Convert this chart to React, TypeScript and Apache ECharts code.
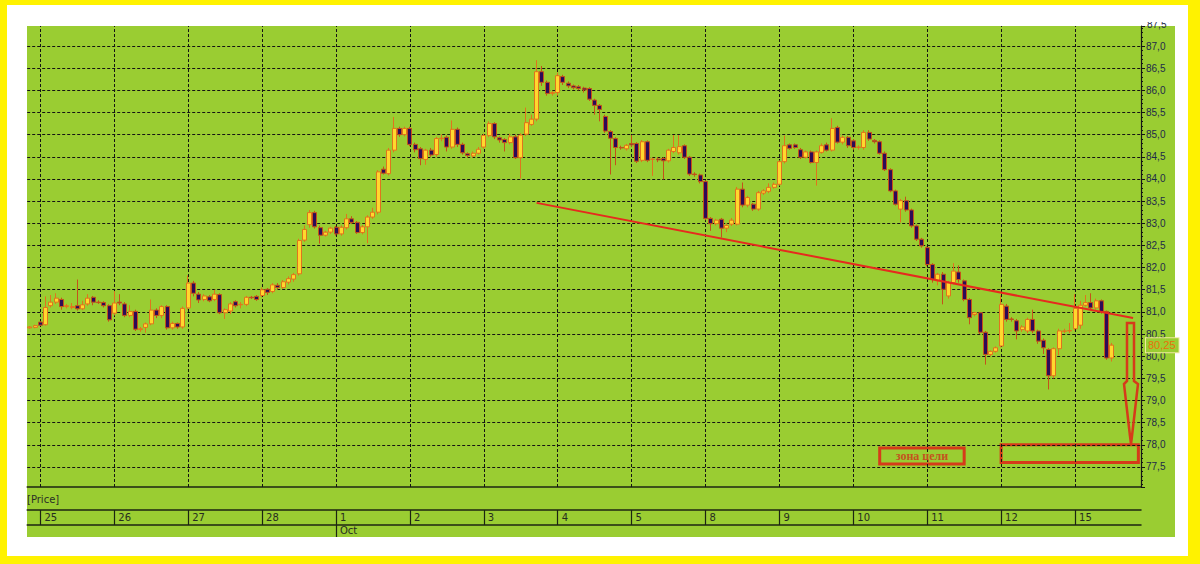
import React, { useEffect, useRef } from 'react';
import * as echarts from 'echarts';

// ---- DATA: hourly candles [open, close, low, high] ----
const sep24 = [
  [80.64, 80.66, 80.62, 80.68], [80.65, 80.69, 80.63, 80.71],
];
const sep25 = [
  [80.77, 80.70, 80.68, 80.79], [80.71, 81.10, 80.69, 81.35], [81.14, 81.22, 81.10, 81.38],
  [81.22, 81.31, 81.18, 81.42], [81.28, 81.12, 81.05, 81.32], [81.12, 81.14, 81.08, 81.18],
  [81.10, 81.12, 81.06, 81.20], [81.14, 81.07, 81.03, 81.73], [81.07, 81.16, 81.04, 81.25],
  [81.18, 81.31, 81.14, 81.40], [81.33, 81.22, 81.15, 81.36], [81.22, 81.21, 81.18, 81.26],
  [81.21, 81.14, 81.10, 81.24], [81.14, 80.82, 80.78, 81.17],
];
const sep26 = [
  [80.97, 81.20, 80.92, 81.47], [81.22, 81.20, 81.15, 81.40], [81.18, 80.92, 80.88, 81.22],
  [80.92, 81.01, 80.88, 81.15], [81.01, 80.61, 80.57, 81.05], [80.60, 80.62, 80.55, 80.66],
  [80.65, 80.73, 80.53, 80.76], [80.73, 81.04, 80.70, 81.28], [81.04, 80.92, 80.86, 81.08],
  [80.92, 81.12, 80.86, 81.15], [81.12, 80.64, 80.60, 81.15], [80.64, 80.74, 80.60, 80.78],
  [80.74, 80.66, 80.62, 80.76], [80.66, 81.08, 80.62, 81.12],
];
const sep27 = [
  [81.09, 81.65, 81.05, 81.82], [81.65, 81.42, 81.35, 81.70], [81.40, 81.27, 81.20, 81.45],
  [81.28, 81.36, 81.24, 81.40], [81.34, 81.25, 81.22, 81.38], [81.28, 81.40, 81.24, 81.50],
  [81.39, 80.98, 80.95, 81.42], [80.98, 81.05, 80.84, 81.08], [81.02, 81.18, 80.95, 81.22],
  [81.23, 81.14, 81.10, 81.26], [81.16, 81.17, 81.08, 81.22], [81.17, 81.33, 81.13, 81.36],
  [81.33, 81.32, 81.29, 81.36], [81.35, 81.28, 81.25, 81.38],
];
const sep28 = [
  [81.37, 81.50, 81.33, 81.55], [81.51, 81.44, 81.38, 81.54], [81.46, 81.61, 81.42, 81.65],
  [81.60, 81.55, 81.50, 81.65], [81.55, 81.68, 81.52, 81.72], [81.67, 81.75, 81.62, 81.80],
  [81.74, 81.84, 81.68, 81.88], [81.86, 82.61, 81.82, 82.65], [82.62, 82.86, 82.58, 82.95],
  [82.97, 83.24, 82.90, 83.30], [83.24, 82.92, 82.88, 83.28], [82.90, 82.73, 82.54, 82.95],
  [82.73, 82.80, 82.70, 82.83], [82.80, 82.89, 82.76, 82.92],
];
const oct01 = [
  [82.91, 82.76, 82.72, 82.94], [82.76, 82.91, 82.72, 82.95], [82.90, 83.10, 82.86, 83.21],
  [83.10, 83.02, 82.98, 83.16], [83.02, 82.79, 82.76, 83.05], [82.79, 82.92, 82.75, 82.96],
  [82.92, 83.14, 82.55, 83.18], [83.14, 83.25, 83.10, 83.35], [83.25, 84.16, 83.20, 84.20],
  [84.22, 84.13, 84.10, 84.28], [84.12, 84.65, 84.08, 84.70], [84.65, 85.14, 84.60, 85.40],
  [85.14, 85.00, 84.95, 85.18], [85.00, 85.14, 84.96, 85.18],
];
const oct02 = [
  [85.14, 84.78, 84.74, 85.18], [84.78, 84.66, 84.60, 84.82], [84.68, 84.46, 84.31, 84.72],
  [84.44, 84.65, 84.32, 84.68], [84.65, 84.54, 84.50, 84.70], [84.55, 84.91, 84.50, 84.95],
  [84.91, 84.92, 84.85, 85.00], [84.94, 84.72, 84.62, 84.98], [84.72, 85.12, 84.68, 85.32],
  [85.12, 84.78, 84.72, 85.16], [84.78, 84.59, 84.55, 84.82], [84.57, 84.53, 84.48, 84.60],
  [84.52, 84.58, 84.48, 84.62], [84.58, 84.67, 84.55, 84.72],
];
const oct03 = [
  [84.72, 84.98, 84.68, 85.02], [84.98, 85.25, 84.94, 85.30], [85.25, 84.95, 84.90, 85.28],
  [84.93, 84.88, 84.82, 84.96], [84.89, 84.82, 84.62, 84.92], [84.82, 84.95, 84.78, 85.02],
  [84.95, 84.48, 84.45, 85.00], [84.48, 84.99, 84.01, 85.03], [85.01, 85.27, 84.97, 85.61],
  [85.23, 85.35, 85.20, 85.45], [85.35, 86.42, 85.30, 86.68], [86.42, 86.18, 86.10, 86.55],
  [86.18, 85.93, 85.88, 86.22], [85.93, 85.95, 85.88, 85.99],
];
const oct04 = [
  [85.95, 86.33, 85.88, 86.40], [86.31, 86.18, 86.12, 86.35], [86.16, 86.10, 86.05, 86.20],
  [86.10, 86.06, 86.02, 86.13], [86.08, 86.04, 86.00, 86.12], [86.05, 86.01, 85.95, 86.08],
  [86.04, 85.80, 85.76, 86.07], [85.78, 85.66, 85.45, 85.81], [85.66, 85.57, 85.30, 85.69],
  [85.41, 85.08, 85.04, 85.45], [85.07, 84.92, 84.10, 85.10], [84.91, 84.71, 84.31, 84.94],
  [84.71, 84.70, 84.66, 84.75], [84.68, 84.76, 84.64, 84.79],
];
const oct05 = [
  [84.80, 84.77, 84.72, 84.99], [84.80, 84.40, 84.36, 84.83], [84.42, 84.84, 84.38, 84.88],
  [84.84, 84.42, 84.38, 84.87], [84.44, 84.45, 84.07, 84.48], [84.45, 84.43, 84.38, 84.49],
  [84.46, 84.41, 83.99, 84.49], [84.41, 84.65, 84.37, 84.68], [84.62, 84.71, 84.58, 84.99],
  [84.59, 84.73, 84.55, 84.99], [84.75, 84.49, 84.45, 84.78], [84.49, 84.11, 84.07, 84.52],
  [84.11, 84.10, 84.05, 84.15], [84.09, 83.94, 83.90, 84.12],
];
const oct08 = [
  [83.94, 83.11, 83.07, 83.97], [83.11, 82.99, 82.83, 83.14], [82.99, 83.07, 82.95, 83.10],
  [83.09, 82.89, 82.68, 83.12], [82.89, 82.95, 82.80, 83.00], [82.98, 83.07, 82.94, 83.12],
  [82.98, 83.77, 82.95, 83.82], [83.77, 83.41, 83.36, 83.92], [83.41, 83.58, 83.36, 83.62],
  [83.43, 83.32, 83.28, 83.46], [83.32, 83.69, 83.28, 83.73], [83.68, 83.73, 83.64, 83.77],
  [83.72, 83.81, 83.68, 83.90], [83.81, 83.88, 83.78, 83.92],
];
const oct09 = [
  [83.88, 84.39, 83.85, 84.42], [84.39, 84.75, 84.35, 84.98], [84.77, 84.69, 84.66, 84.80],
  [84.77, 84.71, 84.68, 84.80], [84.66, 84.49, 84.45, 84.70], [84.49, 84.61, 84.46, 84.64],
  [84.61, 84.37, 84.35, 84.64], [84.37, 84.61, 83.85, 84.64], [84.60, 84.75, 84.57, 84.80],
  [84.77, 84.65, 84.62, 84.82], [84.65, 85.14, 84.62, 85.37], [85.16, 84.83, 84.80, 85.20],
  [84.83, 84.94, 84.78, 84.98], [84.94, 84.75, 84.70, 84.97],
];
const oct10 = [
  [84.86, 84.71, 84.66, 84.90], [84.71, 84.72, 84.66, 84.76], [84.71, 85.05, 84.66, 85.10],
  [85.05, 84.90, 84.86, 85.10], [84.87, 84.84, 84.80, 84.90], [84.84, 84.58, 84.55, 84.87],
  [84.58, 84.21, 84.18, 84.62], [84.21, 83.73, 83.70, 84.24], [83.73, 83.43, 83.40, 83.76],
  [83.32, 83.51, 83.02, 83.55], [83.51, 83.30, 83.26, 83.60], [83.30, 82.94, 82.90, 83.33],
  [82.94, 82.64, 82.60, 82.97], [82.64, 82.49, 82.45, 82.67],
];
const oct11 = [
  [82.45, 82.07, 82.03, 82.48], [82.07, 81.73, 81.66, 82.10], [81.70, 81.85, 81.60, 81.88],
  [81.85, 81.51, 81.17, 81.90], [81.36, 81.66, 81.30, 81.70], [81.66, 81.92, 81.62, 82.10],
  [81.90, 81.73, 81.66, 82.05], [81.70, 81.28, 81.24, 81.73], [81.28, 80.87, 80.72, 81.31],
  [80.94, 80.98, 80.90, 81.00], [80.98, 80.54, 80.50, 81.00], [80.54, 80.04, 79.81, 80.57],
  [80.04, 80.11, 80.00, 80.13], [80.11, 80.19, 80.08, 80.22],
];
const oct12 = [
  [80.23, 81.17, 80.20, 81.37], [81.13, 80.83, 80.78, 81.18], [80.84, 80.83, 80.78, 80.88],
  [80.80, 80.57, 80.38, 80.84], [80.60, 80.66, 80.55, 80.70], [80.57, 80.83, 80.52, 80.87],
  [80.83, 80.57, 80.52, 81.05], [80.57, 80.34, 80.28, 80.60], [80.36, 80.19, 80.05, 80.40],
  [80.15, 79.56, 79.25, 80.18], [79.56, 80.17, 79.50, 80.20], [80.17, 80.57, 80.02, 80.62],
  [80.56, 80.57, 80.52, 80.62], [80.57, 80.58, 80.52, 80.75],
];
const oct15 = [
  [80.62, 81.08, 80.58, 81.40], [80.70, 81.15, 80.62, 81.25], [81.15, 81.21, 81.12, 81.38],
  [81.21, 81.09, 81.04, 81.42], [81.09, 81.25, 81.05, 81.30], [81.25, 81.01, 80.96, 81.28],
  [81.01, 79.96, 79.92, 81.03], [79.96, 80.25, 79.88, 80.30],
];

const sessions = [
  { month: 'Sep', day: '24', firstHour: 22, candles: sep24 },
  { month: 'Sep', day: '25', firstHour: 10, candles: sep25 },
  { month: 'Sep', day: '26', firstHour: 10, candles: sep26 },
  { month: 'Sep', day: '27', firstHour: 10, candles: sep27 },
  { month: 'Sep', day: '28', firstHour: 10, candles: sep28 },
  { month: 'Oct', day: '1', firstHour: 10, candles: oct01 },
  { month: 'Oct', day: '2', firstHour: 10, candles: oct02 },
  { month: 'Oct', day: '3', firstHour: 10, candles: oct03 },
  { month: 'Oct', day: '4', firstHour: 10, candles: oct04 },
  { month: 'Oct', day: '5', firstHour: 10, candles: oct05 },
  { month: 'Oct', day: '8', firstHour: 10, candles: oct08 },
  { month: 'Oct', day: '9', firstHour: 10, candles: oct09 },
  { month: 'Oct', day: '10', firstHour: 10, candles: oct10 },
  { month: 'Oct', day: '11', firstHour: 10, candles: oct11 },
  { month: 'Oct', day: '12', firstHour: 10, candles: oct12 },
  { month: 'Oct', day: '15', firstHour: 10, candles: oct15 },
];
// empty hourly slots after the last candle (Oct 15)
const emptyHours = [18, 19, 20, 21, 22];

// price levels of the dashed horizontal grid (right axis ticks)
const priceLevels = [77.5, 78.0, 78.5, 79.0, 79.5, 80.0, 80.5, 81.0, 81.5, 82.0, 82.5,
  83.0, 83.5, 84.0, 84.5, 85.0, 85.5, 86.0, 86.5, 87.0];
const lastPrice = 80.25;

// trend line (drawn by hand on the original)
const trendStart = { slot: 'Oct 3 20:00', value: 83.46 };
const trendEnd = { slot: 'Oct 15 21:00', value: 80.86 };
// target zone and its caption box
const targetZone = { from: 'Oct 12 10:00', to: 'Oct 15 22:00', top: 78.0, bottom: 77.6 };
const captionBox = { from: 'Oct 10 15:00', to: 'Oct 11 17:00', top: 77.93, bottom: 77.57, text: 'зона цели' };

// ---- build categories & series ----
const hh = (h: number) => `${h}:00`;
const categories: string[] = [];
const candleData: any[] = [];
sessions.forEach((s) => {
  s.candles.forEach((c, i) => {
    categories.push(`${s.month} ${s.day} ${hh(s.firstHour + i)}`);
    candleData.push(c);
  });
});
emptyHours.forEach((h) => {
  categories.push(`Oct 15 ${hh(h)}`);
  candleData.push('-');
});
const isDayStart = (_i: number, v: string) => v.endsWith(' 10:00');
const isMonthStart = (_i: number, v: string) => v === 'Oct 1 10:00';
const dayLines = categories.filter((v) => v.endsWith(' 10:00'));

const Y_MIN = 77.0485;
const Y_MAX = 87.4515;
const DARK = '#1c2412';
const RED = '#d63b1a';

export default function App() {
  const ref = useRef<HTMLDivElement>(null);
  useEffect(() => {
    const chart = echarts.init(ref.current!, null, { renderer: 'svg' });
    const gridBase = { left: 27.2, right: 59 };
    const option: any = {
      animation: false,
      backgroundColor: '#fff200',
      textStyle: { fontFamily: 'Liberation Sans' },
      grid: [
        { ...gridBase, top: 26, bottom: 77 },
        { ...gridBase, top: 510, height: 15 },
        { ...gridBase, top: 525, height: 12 },
      ],
      xAxis: [
        {
          gridIndex: 0, type: 'category', data: categories, boundaryGap: true,
          axisLine: { show: true, lineStyle: { color: DARK, width: 1.5 } },
          axisTick: { show: false }, axisLabel: { show: false }, splitLine: { show: false },
        },
        {
          gridIndex: 1, type: 'category', data: categories, boundaryGap: true, position: 'bottom',
          axisLine: { show: true, lineStyle: { color: DARK, width: 1.5 } },
          axisTick: { show: true, inside: true, length: 15, alignWithLabel: true, interval: isDayStart, lineStyle: { color: DARK, width: 1.2 } },
          axisLabel: {
            show: true, inside: true, interval: isDayStart, formatter: (v: string) => v.split(' ')[1],
            align: 'left', padding: [0, 0, 0, 4], margin: 3, color: '#262c20', fontSize: 10, fontFamily: 'DejaVu Sans',
          },
          splitLine: { show: false },
        },
        {
          gridIndex: 1, type: 'category', data: categories, boundaryGap: true, position: 'top',
          axisLine: { show: true, lineStyle: { color: DARK, width: 1.5 } },
          axisTick: { show: false }, axisLabel: { show: false }, splitLine: { show: false },
        },
        {
          gridIndex: 2, type: 'category', data: categories, boundaryGap: true, position: 'bottom',
          axisLine: { show: false },
          axisTick: { show: true, inside: true, length: 12, alignWithLabel: true, interval: isMonthStart, lineStyle: { color: DARK, width: 1.2 } },
          axisLabel: {
            show: true, inside: true, interval: isMonthStart, formatter: (v: string) => v.split(' ')[0],
            align: 'left', padding: [0, 0, 0, 4], margin: 2, color: '#262c20', fontSize: 10, fontFamily: 'DejaVu Sans',
          },
          splitLine: { show: false },
        },
      ],
      yAxis: [
        {
          gridIndex: 0, type: 'value', position: 'right', min: Y_MIN, max: Y_MAX, splitNumber: 21,
          axisLine: { show: true, lineStyle: { color: '#151515', width: 1.2 } },
          axisTick: { show: true, length: 4, lineStyle: { color: '#151515' } },
          minorTick: { show: true, splitNumber: 5, length: 2, lineStyle: { color: '#151515' } },
          splitLine: { show: false },
          axisLabel: {
            show: true, showMinLabel: false, showMaxLabel: false, margin: 5,
            color: '#1d2a4a', fontSize: 10, fontFamily: 'Liberation Sans',
            formatter: (v: number) => (Math.abs(v * 2 - Math.round(v * 2)) > 1e-6 ? '' : v.toFixed(1).replace('.', ',')),
          },
        },
        { gridIndex: 1, type: 'value', show: false, min: 0, max: 1 },
        { gridIndex: 2, type: 'value', show: false, min: 0, max: 1 },
      ],
      series: [
        {
          type: 'line', name: 'grid', xAxisIndex: 0, yAxisIndex: 0, data: [], silent: true, z: 1,
          markLine: {
            z: 1, silent: true, symbol: ['none', 'none'], label: { show: false },
            lineStyle: { color: '#141414', width: 1, type: [3, 2] },
            emphasis: { disabled: true },
            data: [
              ...dayLines.map((c) => ({ xAxis: c })),
              ...priceLevels.map((v) => ({ yAxis: v })),
            ],
          },
        },
        {
          type: 'line', name: 'last', xAxisIndex: 0, yAxisIndex: 0, data: [], silent: true, z: 6,
          markLine: {
            z: 6, silent: true, symbol: ['none', 'none'],
            emphasis: { disabled: true },
            lineStyle: { color: 'rgba(0,0,0,0)', width: 1, type: 'solid' },
            label: {
              show: true, position: 'end', distance: 5, formatter: lastPrice.toFixed(2).replace('.', ','),
              color: '#e8700c', fontSize: 11, fontFamily: 'Liberation Sans',
              backgroundColor: '#9acd32', borderColor: '#efe7a0', borderWidth: 1, padding: [2, 3, 1, 2],
            },
            data: [{ yAxis: lastPrice }],
          },
        },
        {
          type: 'candlestick', name: 'Price', xAxisIndex: 0, yAxisIndex: 0, data: candleData, z: 2,
          barWidth: 4.5,
          itemStyle: {
            color: '#ffd82e', color0: '#2c0b57',
            borderColor: '#e0741c', borderColor0: '#c4521a', borderWidth: 1,
          },
          markLine: {
            silent: true, symbol: ['none', 'none'], label: { show: false },
            emphasis: { disabled: true },
            lineStyle: { color: '#e62a1e', width: 2, type: 'solid' },
            data: [
              [
                { coord: [trendStart.slot, trendStart.value] },
                { coord: [trendEnd.slot, trendEnd.value] },
              ],
            ],
          },
          markArea: {
            silent: true,
            itemStyle: { color: 'rgba(0,0,0,0)', borderColor: RED, borderWidth: 3 },
            label: {
              show: true, position: 'inside', formatter: (p: any) => p.name || '',
              color: '#c4531e', fontFamily: 'Liberation Serif', fontWeight: 'bold', fontSize: 12,
            },
            emphasis: { disabled: true },
            data: [
              [
                { name: captionBox.text, coord: [captionBox.from, captionBox.top] },
                { coord: [captionBox.to, captionBox.bottom] },
              ],
              [
                { name: '', coord: [targetZone.from, targetZone.top] },
                { coord: [targetZone.to, targetZone.bottom] },
              ],
            ],
          },
        },
      ],
      graphic: {
        elements: [
          { type: 'rect', silent: true, z: -20, shape: { x: 7, y: 5, width: 1181, height: 551 }, style: { fill: '#ffffff' } },
          { type: 'rect', silent: true, z: -19, shape: { x: 27, y: 26, width: 1148, height: 511 }, style: { fill: '#9acd32' } },
          {
            type: 'text', silent: true, z: 50, x: 1147, y: 24,
            style: { text: '87,5', fill: '#1d2a4a', fontSize: 10, fontFamily: 'Liberation Sans', verticalAlign: 'middle' },
          },
          { type: 'rect', silent: true, z: 100, shape: { x: 1142, y: 5, width: 46, height: 17 }, style: { fill: '#ffffff' } },
          {
            type: 'text', silent: true, z: 50, x: 27, y: 499,
            style: { text: '[Price]', fill: '#2b2f26', fontSize: 10, fontFamily: 'DejaVu Sans', verticalAlign: 'middle' },
          },
          {
            type: 'polygon', silent: true, z: 60,
            shape: {
              points: [[1127, 323], [1134, 323], [1134, 381], [1138, 384], [1132, 436], [1131, 444],
                [1130, 436], [1124, 384], [1127, 381]],
            },
            style: { fill: 'none', stroke: RED, lineWidth: 2.5 },
          },
        ],
      },
    };
    chart.setOption(option);
    return () => chart.dispose();
  }, []);
  return <div ref={ref} style={{ position: 'fixed', left: 0, top: 0, width: 1200, height: 564 }} />;
}
